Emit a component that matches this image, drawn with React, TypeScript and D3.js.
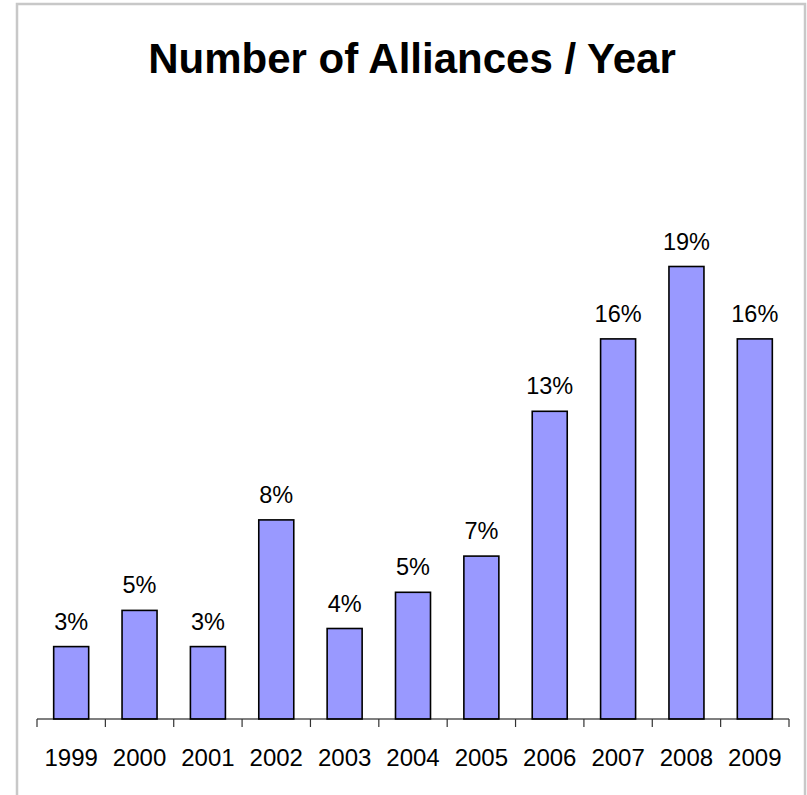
import React from "react";
import * as d3 from "d3";

const years = ["1999", "2000", "2001", "2002", "2003", "2004", "2005", "2006", "2007", "2008", "2009"];
const counts = [4, 6, 4, 11, 5, 7, 9, 17, 21, 25, 21];
const pctLabels = ["3%", "5%", "3%", "8%", "4%", "5%", "7%", "13%", "16%", "19%", "16%"];
const title = "Number of Alliances / Year";

const W = 807;
const H = 795;
const axisLeft = 37;
const axisRight = 789;
const baseY = 719;
const FONT = "'Liberation Sans', Arial, Helvetica, sans-serif";

export default function App() {
  const x = d3.scaleBand<string>().domain(years).range([axisLeft, axisRight]).padding(0);
  const y = d3.scaleLinear().domain([0, 30]).range([baseY, baseY - 30 * 18.1]);
  const bw = 35;
  const ticks = [...years.map((yr) => x(yr) as number), axisRight];

  return (
    <svg width={W} height={H} style={{ position: "absolute", left: 0, top: 0, background: "#fff" }}>
      <rect x={17} y={4} width={788} height={H + 10} fill="#fff" stroke="#c8c8c8" strokeWidth={2.5} />
      <text x={412} y={73} textAnchor="middle" fontFamily={FONT} fontWeight="bold" fontSize={42} fill="#000">
        {title}
      </text>
      {years.map((yr, i) => {
        const cx = (x(yr) as number) + x.bandwidth() / 2;
        const top = y(counts[i]);
        return (
          <g key={yr}>
            <rect x={cx - bw / 2} y={top} width={bw} height={baseY - top} fill="#9999FF" stroke="#000" strokeWidth={1.6} />
            <text x={cx} y={top - 17} textAnchor="middle" fontFamily={FONT} fontSize={23.5} fill="#000">
              {pctLabels[i]}
            </text>
            <text x={cx} y={766} textAnchor="middle" fontFamily={FONT} fontSize={24} fill="#000">
              {yr}
            </text>
          </g>
        );
      })}
      <line x1={axisLeft} x2={axisRight} y1={baseY} y2={baseY} stroke="#000" strokeWidth={1.2} />
      {ticks.map((t, i) => (
        <line key={i} x1={t} x2={t} y1={baseY} y2={baseY + 8} stroke="#333" strokeWidth={1.2} />
      ))}
    </svg>
  );
}
